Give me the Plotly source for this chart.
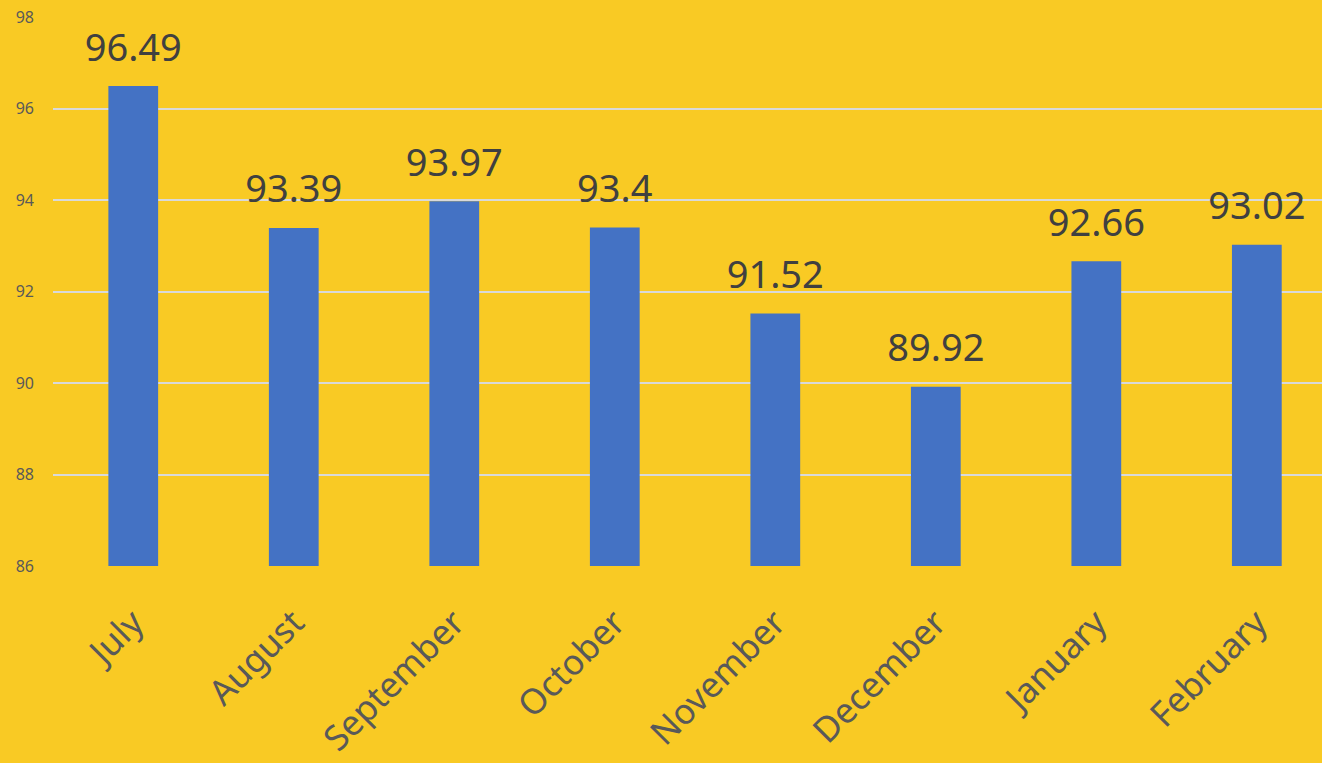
import plotly.graph_objects as go

months = ["July", "August", "September", "October", "November", "December", "January", "February"]
values = [96.49, 93.39, 93.97, 93.4, 91.52, 89.92, 92.66, 93.02]
labels = ["96.49", "93.39", "93.97", "93.4", "91.52", "89.92", "92.66", "93.02"]
y_ticks = [86, 88, 90, 92, 94, 96, 98]

bg = "#F9CA24"
fig = go.Figure()
fig.add_trace(go.Bar(
    x=months, y=values,
    marker=dict(color="#4472C4", line=dict(width=0)),
    width=0.31, hoverinfo="x+y",
))
fig.add_trace(go.Scatter(
    x=months, y=values, text=labels, mode="markers+text", textposition="top center",
    marker=dict(size=24, opacity=0),
    textfont=dict(family="Noto Sans", size=38, color="#404040"),
    cliponaxis=False, hoverinfo="skip",
))
fig.update_layout(
    width=1322, height=763,
    paper_bgcolor=bg, plot_bgcolor=bg,
    margin=dict(l=53, r=0, t=17, b=197),
    showlegend=False,
    font=dict(family="Noto Sans"),
)
fig.update_xaxes(range=[-0.5, 7.406], showgrid=False, showline=False, zeroline=False,
                 tickangle=-45, tickfont=dict(size=35, color="#595959"), ticks="",
                 ticklabelstandoff=28, automargin=False)
fig.update_yaxes(range=[86, 98], tickvals=y_ticks, showgrid=True, gridcolor="#D9D9D9",
                 gridwidth=1.5, zeroline=False, showline=False, automargin=False,
                 tickfont=dict(size=16, color="#595959"), ticks="", ticklabelstandoff=18)
fig.write_html("out.html", config={"displayModeBar": False},
               post_script="document.body.style.margin='0';")
